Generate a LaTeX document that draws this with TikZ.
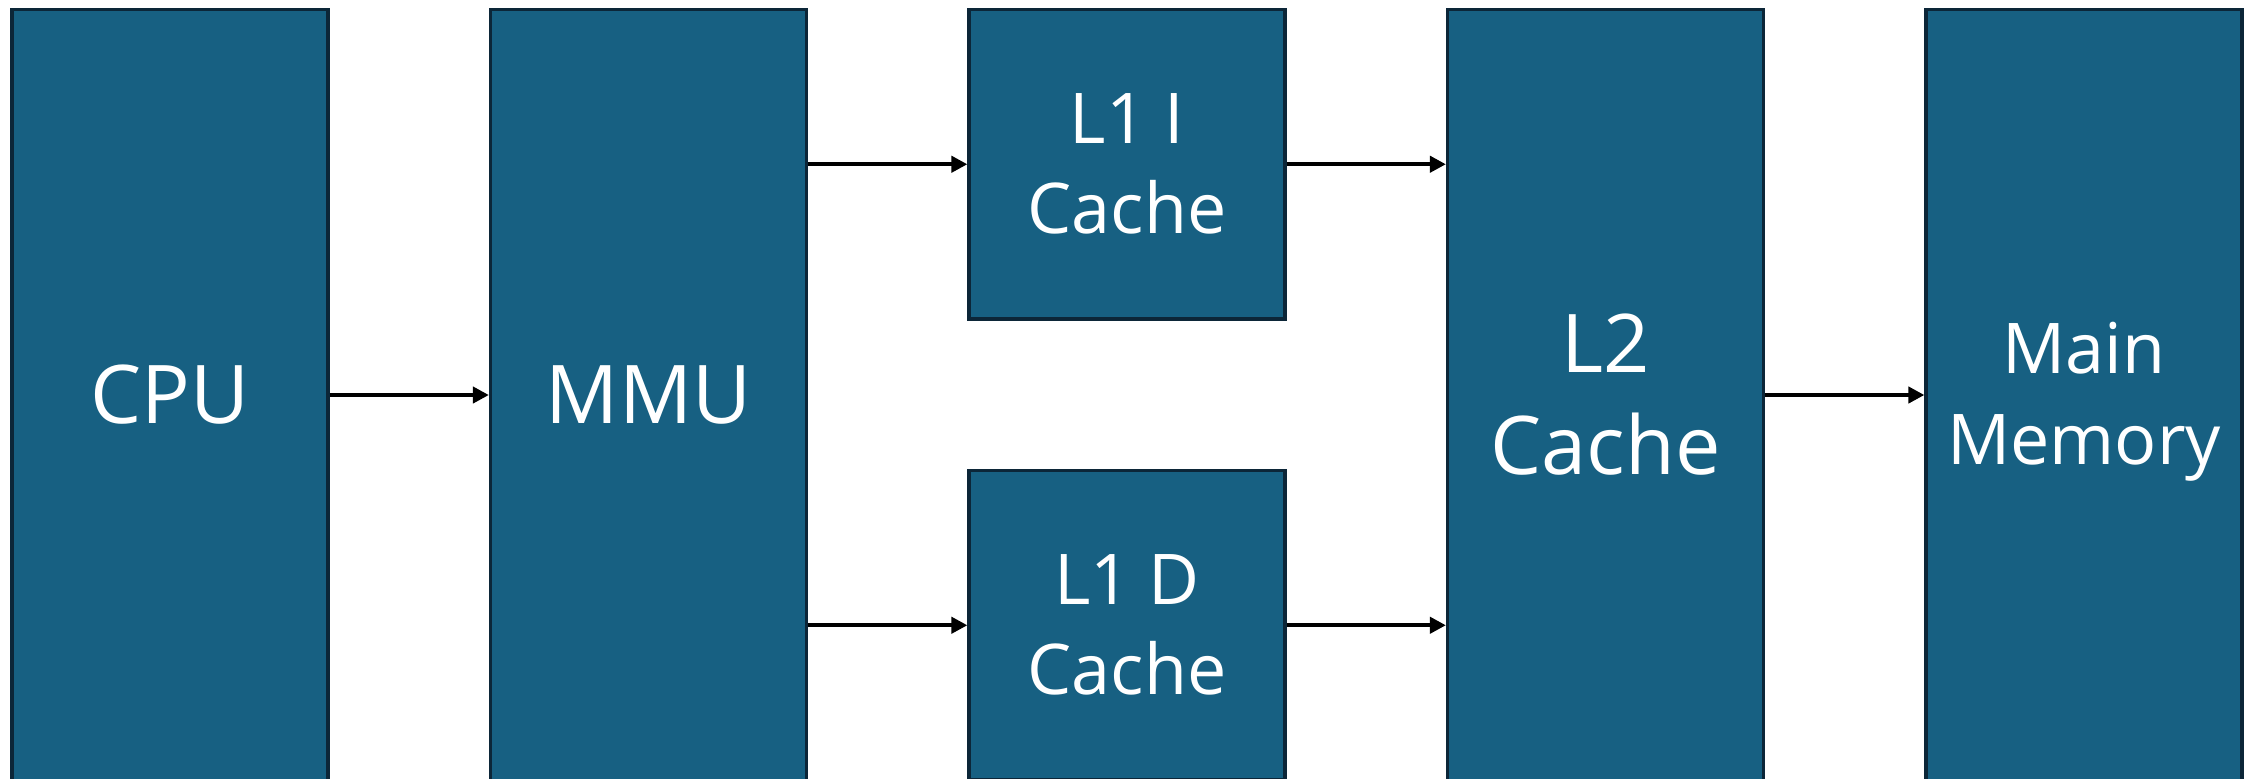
\documentclass[tikz,border=0pt]{standalone}
\usepackage{fontspec}
\setmainfont{Open Sans}
\usetikzlibrary{arrows.meta}
\definecolor{boxfill}{RGB}{23,96,130}
\definecolor{boxline}{RGB}{12,38,56}
\tikzset{
  blk/.style={draw=boxline, line width=1.6pt, fill=boxfill, text=white,
    minimum width=158pt, inner sep=0pt, align=center},
  bigblk/.style={blk, minimum height=385.5pt, font={\fontsize{40.5}{51}\selectfont}},
  smallblk/.style={blk, minimum height=154.75pt, font={\fontsize{35}{45}\selectfont}},
  arr/.style={-{Triangle[length=8pt,width=8pt]}, line width=2.2pt, black}
}
\begin{document}
\begin{tikzpicture}[x=0.5pt,y=-0.5pt]
\clip (0,0) rectangle (2252,778);
\node[bigblk] (cpu) at (170,395) {CPU};
\node[bigblk] (mmu) at (648.5,395) {MMU};
\node[smallblk] (l1i) at (1127,164.25) {L1 I\\Cache};
\node[smallblk] (l1d) at (1127,625.25) {L1 D\\Cache};
\node[bigblk] (l2) at (1605.5,395) {L2\\Cache};
\node[bigblk, font={\fontsize{35}{45.5}\selectfont}, text depth=1.5pt] (mem) at (2084,395) {Main\\Memory};
\draw[arr] (cpu.east) -- (mmu.west);
\draw[arr] (mmu.east |- l1i.west) -- (l1i.west);
\draw[arr] (mmu.east |- l1d.west) -- (l1d.west);
\draw[arr] (l1i.east) -- (l2.west |- l1i.east);
\draw[arr] (l1d.east) -- (l2.west |- l1d.east);
\draw[arr] (l2.east) -- (mem.west);
\end{tikzpicture}
\end{document}
